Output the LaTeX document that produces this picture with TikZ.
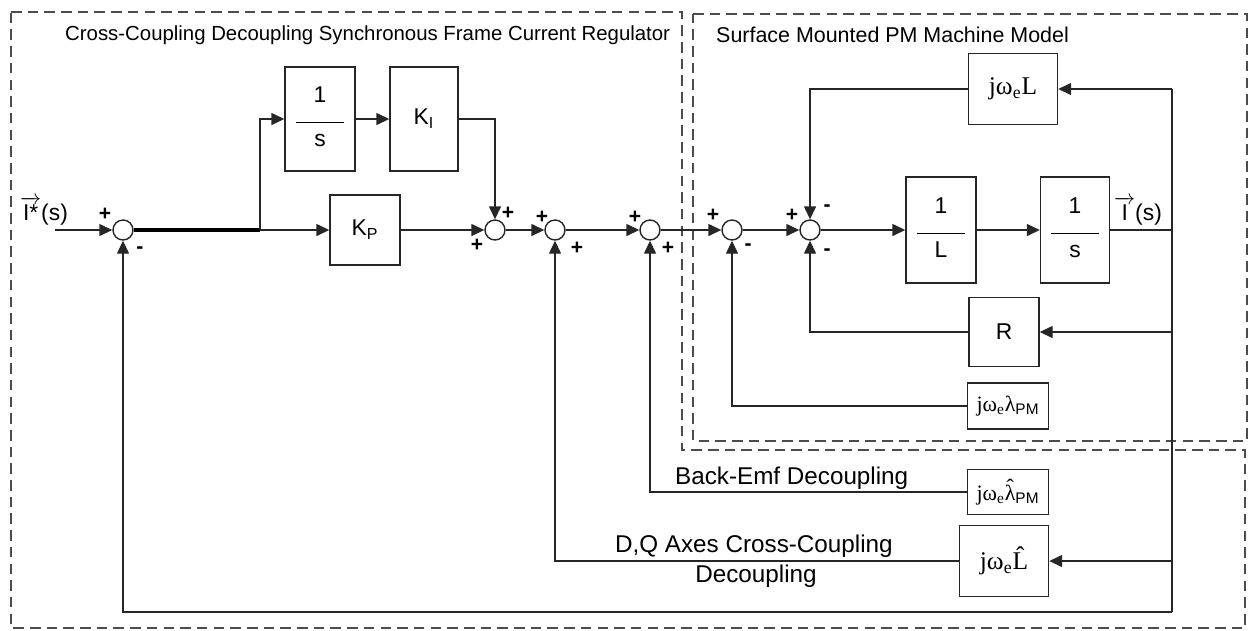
\documentclass[tikz,border=0pt]{standalone}
\usepackage{amsmath}
\usepackage{fontspec}
\setmainfont{Liberation Sans}
\newfontfamily\blkserif{Liberation Serif}
\usetikzlibrary{
  arrows.meta,
  positioning
}

% fraction inside a block: numerator, bar, denominator
\newcommand{\blkfrac}[2]{%
  \begin{tabular}{@{}c@{}}#1\\[-3pt]\rule{0.95cm}{0.7pt}\\[-2pt]#2\end{tabular}}
% circumflex put over a tall letter
\newcommand{\hatover}[1]{\accent"02C6 #1}

\begin{document}
\begin{tikzpicture}[
  x=0.02cm, y=-0.02cm,
  every node/.style={font=\fontsize{11}{13}\selectfont},
  wire/.style={line width=0.8pt, draw=black!85},
  arr/.style={wire, -{Triangle[length=2.6mm, width=2.4mm]}},
  thk/.style={line width=2.4pt, draw=black},
  blk/.style={
    rectangle, draw=black!85, line width=0.8pt, fill=white,
    inner sep=0pt, font=\fontsize{13}{15}\selectfont
  },
  jblk/.style={blk, font=\blkserif\fontsize{14.5}{16}\selectfont},
  sblk/.style={blk, font=\blkserif\fontsize{12.5}{14}\selectfont},
  sum/.style={circle, draw=black!85, line width=0.8pt, minimum size=0.4cm, inner sep=0pt},
  sgn/.style={font=\bfseries\fontsize{12}{12}\selectfont, inner sep=0pt},
  frame/.style={draw=black!70, line width=0.9pt, dash pattern=on 6pt off 3.5pt},
  ttl/.style={anchor=west, font=\fontsize{11.6}{13}\selectfont},
  lbl/.style={font=\fontsize{13.8}{15}\selectfont, inner sep=1pt},
]
\useasboundingbox (0,0) rectangle (1250,630);

% dashed frames
\draw[frame] (11,12) -- (682,12) -- (682,450) -- (1245,450) -- (1245,628) -- (11,628) -- cycle;
\draw[frame] (693,14) -- (1247,14) -- (1247,441) -- (693,441) -- cycle;
\node[ttl] (ttlreg) at (59,35) {Cross-Coupling Decoupling Synchronous Frame Current Regulator};
\node[ttl, font=\fontsize{12.2}{13}\selectfont] (ttlpm) at (710,35) {Surface Mounted PM Machine Model};

% summing junctions
\node[sum] (s1) at (123,230) {};
\node[sum] (s2) at (495,230) {};
\node[sum] (s3) at (555,230) {};
\node[sum] (s4) at (650,230) {};
\node[sum] (s5) at (732,230) {};
\node[sum] (s6) at (810,230) {};

% blocks
\node[blk, minimum width=1.4cm, minimum height=2.08cm]  (integ) at (320,119) {\blkfrac{1}{s}};
\node[blk, minimum width=1.36cm, minimum height=2.08cm] (ki)    at (424,119) {K\textsubscript{I}};
\node[blk, minimum width=1.4cm, minimum height=1.4cm]   (kp)    at (365,230) {K\textsubscript{P}};
\node[jblk, minimum width=1.78cm, minimum height=1.42cm] (jwl)  at (1013,89)
  {jω\textsubscript{e}L};
\node[blk, minimum width=1.4cm, minimum height=2.12cm]  (invl)  at (941,230) {\blkfrac{1}{L}};
\node[blk, minimum width=1.38cm, minimum height=2.12cm] (ints)  at (1075,230) {\blkfrac{1}{s}};
\node[blk, minimum width=1.4cm, minimum height=1.38cm]  (rblk)  at (1004,332) {R};
\node[sblk, minimum width=1.62cm, minimum height=0.92cm] (lpm)  at (1008,406)
  {jω\textsubscript{e}λ\textsubscript{\normalfont PM}};
\node[sblk, minimum width=1.62cm, minimum height=0.9cm]  (lpmh) at (1008,492)
  {jω\textsubscript{e}\hatover{λ}\textsubscript{\normalfont PM}};
\node[jblk, minimum width=1.78cm, minimum height=1.42cm] (lh)   at (1004,561)
  {jω\textsubscript{e}\hatover{L}};

% tap points
\coordinate (in)    at (55,230);
\coordinate (bp)    at (260,230);
\coordinate (out)   at (1172,230);
\coordinate (tapL)  at (1172,89);
\coordinate (tapR)  at (1172,332);
\coordinate (tapLh) at (1172,561);
\coordinate (tapF)  at (1172,612);

% forward path
\draw[arr] (in) -- (s1);
\draw[thk] (s1) -- (bp);
\draw[arr] (bp) |- (integ);
\draw[arr] (bp) -- (kp);
\draw[arr] (integ) -- (ki);
\draw[arr] (ki) -| (s2);
\draw[arr] (kp) -- (s2);
\draw[arr] (s2) -- (s3);
\draw[arr] (s3) -- (s4);
\draw[arr] (s4) -- (s5);
\draw[arr] (s5) -- (s6);
\draw[arr] (s6) -- (invl);
\draw[arr] (invl) -- (ints);
\draw[wire] (ints) -- (out);

% feedback paths
\draw[wire] (tapL) -- (tapF);
\draw[arr] (tapL) -- (jwl);
\draw[arr] (jwl) -| (s6);
\draw[arr] (tapR) -- (rblk);
\draw[arr] (rblk) -| (s6);
\draw[arr] (lpm) -| (s5);
\draw[arr] (lpmh) -| (s4);
\draw[arr] (tapLh) -- (lh);
\draw[arr] (lh) -| (s3);
\draw[arr] (tapF) -| (s1);

% signal labels
\node[font=\fontsize{13}{15}\selectfont] (istar) at (44,211) {$\overrightarrow{\text{I*}}$(s)};
\node[font=\fontsize{13}{15}\selectfont] (iout)  at (1138,211) {$\overrightarrow{\text{I}}$(s)};
\node[lbl, anchor=west] (bemf) at (673,478) {Back-Emf Decoupling};
\node[lbl, anchor=west] (dq)   at (613,546) {D,Q Axes Cross-Coupling};
\node[lbl]              (dqb)  at (756,576) {Decoupling};

% signs
\node[sgn] (p1)  at (105,214) {+};
\node[sgn] (m1)  at (140,250) {-};
\node[sgn] (p2a) at (508,213) {+};
\node[sgn] (p2b) at (477,245) {+};
\node[sgn] (p3a) at (542,217) {+};
\node[sgn] (p3b) at (577,248) {+};
\node[sgn] (p4a) at (635,217) {+};
\node[sgn] (p4b) at (668,248) {+};
\node[sgn] (p5)  at (713,215) {+};
\node[sgn] (m5)  at (748,247) {-};
\node[sgn] (p6)  at (792,215) {+};
\node[sgn] (m6a) at (827,208) {-};
\node[sgn] (m6b) at (827,252) {-};
\end{tikzpicture}
\end{document}
